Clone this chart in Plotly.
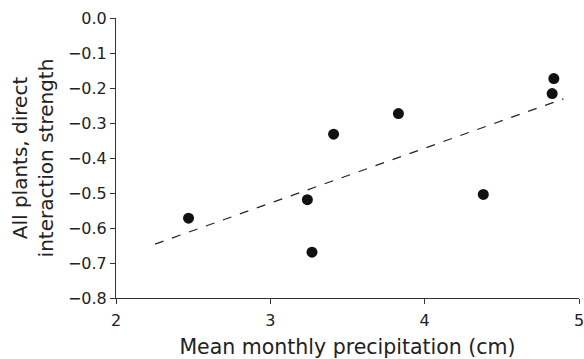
import plotly.graph_objects as go

precip = [2.47, 3.24, 3.27, 3.41, 3.83, 4.38, 4.826, 4.837]
strength = [-0.572, -0.519, -0.669, -0.332, -0.273, -0.504, -0.216, -0.173]
trend_x = [2.253, 4.899]
trend_y = [-0.646, -0.231]
x_ticks = [2, 3, 4, 5]
y_ticks = [0.0, -0.1, -0.2, -0.3, -0.4, -0.5, -0.6, -0.7, -0.8]

fig = go.Figure()
fig.add_trace(go.Scatter(x=trend_x, y=trend_y, mode="lines",
                         line=dict(color="#222", width=1.2, dash="dash"),
                         showlegend=False, hoverinfo="skip"))
fig.add_trace(go.Scatter(x=precip, y=strength, mode="markers",
                         marker=dict(color="#111", size=11),
                         showlegend=False))

font = "DejaVu Sans, sans-serif"
fig.update_layout(
    width=584, height=359,
    margin=dict(l=116, r=5, t=18, b=61),
    paper_bgcolor="white", plot_bgcolor="white",
    font=dict(family=font, color="#222"),
    xaxis=dict(range=[2, 5], tickvals=x_ticks, ticktext=[str(v) for v in x_ticks],
               automargin=False, ticklabeloverflow="allow", ticklabelstandoff=3,
               showgrid=False, zeroline=False, showline=True, linecolor="#333",
               linewidth=1, ticks="outside", ticklen=5, tickcolor="#333",
               tickfont=dict(size=16, family=font, color="#222"),
               title=dict(text="Mean monthly precipitation (cm)", standoff=10,
                          font=dict(size=20.5, family=font, color="#222"))),
    yaxis=dict(range=[-0.8, 0], tickvals=y_ticks,
               ticktext=[f"{v:.1f}".replace("-", "\u2212") if v != 0 else "0.0" for v in y_ticks],
               automargin=False, ticklabeloverflow="allow",
               showgrid=False, zeroline=False, showline=True, linecolor="#333",
               linewidth=1, ticks="outside", ticklen=5, tickcolor="#333",
               tickfont=dict(size=16, family=font, color="#222"),
               title=dict(text="All plants, direct<br>interaction strength", standoff=8,
                          font=dict(size=20, family=font, color="#222"))),
)
fig.write_html("out.html", config={"displayModeBar": False},
               post_script="document.body.style.margin='0';")
